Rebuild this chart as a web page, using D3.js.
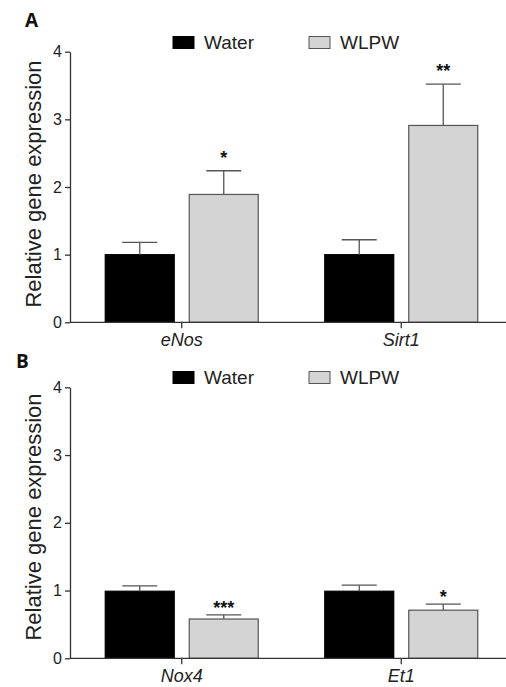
<!DOCTYPE html>
<html>
<head>
<meta charset="utf-8">
<script src="https://cdn.jsdelivr.net/npm/d3@7"></script>
<style>
  body { margin: 0; background: #fff; }
  svg { display: block; font-family: "Liberation Sans", Arial, sans-serif; }
</style>
</head>
<body>
<div id="chart"></div>
<script>
// data
var groups = ["Water", "WLPW"];
var yTicks = [0, 1, 2, 3, 4];

var genesA = ["eNos", "Sirt1"];
var waterA = [1.00, 1.00];
var wlpwA = [1.89, 2.91];
var waterSemA = [0.18, 0.22];
var wlpwSemA = [0.35, 0.61];
var starsA = ["*", "**"];

var genesB = ["Nox4", "Et1"];
var waterB = [0.99, 0.99];
var wlpwB = [0.58, 0.71];
var waterSemB = [0.08, 0.09];
var wlpwSemB = [0.06, 0.09];
var starsB = ["***", "*"];

var svgWidth = 506;
var svgHeight = 687;

var svg = d3.select("#chart")
  .append("svg")
  .attr("width", svgWidth)
  .attr("height", svgHeight);

var fills = { Water: "#000000", WLPW: "#d4d4d4" };
var axisColor = "#333";

function drawPanel(p) {
  var g = svg.append("g");

  var y = d3.scaleLinear().domain([0, 4]).range([p.y0, p.y4]);

  var x0 = d3.scaleBand()
    .domain(p.genes)
    .range([72, 511])
    .padding(0);

  var x1 = d3.scaleBand()
    .domain(groups)
    .range([-76.5, 76.5])
    .paddingInner(0.1786)
    .paddingOuter(0);

  var rows = [];
  p.genes.forEach(function(gene, i) {
    rows.push({ gene: gene, group: "Water", value: p.water[i], sem: p.waterSem[i], star: "" });
    rows.push({ gene: gene, group: "WLPW", value: p.wlpw[i], sem: p.wlpwSem[i], star: p.stars[i] });
  });

  var cx = function(d) { return x0(d.gene) + x0.bandwidth() / 2 + x1(d.group); };

  // bars
  g.selectAll("rect.bar")
    .data(rows)
    .enter()
    .append("rect")
    .attr("class", "bar")
    .attr("x", d => cx(d))
    .attr("y", d => y(d.value))
    .attr("width", x1.bandwidth())
    .attr("height", d => y(0) - y(d.value))
    .attr("fill", d => fills[d.group])
    .attr("stroke", d => d.group === "Water" ? "#000" : "#555")
    .attr("stroke-width", 1.2);

  // error bars (upper only)
  var errs = g.selectAll("g.err")
    .data(rows)
    .enter()
    .append("g")
    .attr("class", "err")
    .attr("stroke", "#555")
    .attr("stroke-width", 1.3);

  errs.append("line")
    .attr("x1", d => cx(d) + x1.bandwidth() / 2)
    .attr("x2", d => cx(d) + x1.bandwidth() / 2)
    .attr("y1", d => y(d.value))
    .attr("y2", d => y(d.value + d.sem));

  errs.append("line")
    .attr("x1", d => cx(d) + x1.bandwidth() / 2 - 17.5)
    .attr("x2", d => cx(d) + x1.bandwidth() / 2 + 17.5)
    .attr("y1", d => y(d.value + d.sem))
    .attr("y2", d => y(d.value + d.sem));

  // significance stars
  g.selectAll("text.star")
    .data(rows.filter(d => d.star))
    .enter()
    .append("text")
    .attr("class", "star")
    .attr("x", d => cx(d) + x1.bandwidth() / 2)
    .attr("y", d => y(d.value + d.sem) - p.starGap + 10)
    .attr("text-anchor", "middle")
    .style("font-size", "18px")
    .style("font-weight", "bold")
    .style("fill", "#111")
    .text(d => d.star);

  // y axis
  var yAxis = g.append("g")
    .attr("transform", "translate(70,0)")
    .call(d3.axisLeft(y).tickValues(yTicks).tickFormat(d3.format("d")).tickSize(5).tickSizeOuter(0).tickPadding(3));
  yAxis.selectAll("path, line").attr("stroke", axisColor).attr("stroke-width", 1.3);
  yAxis.selectAll("text").style("font-size", "16px").style("fill", "#222")
    .style("font-family", "'Liberation Sans', Arial, sans-serif");

  // x axis
  var xAxis = g.append("g")
    .attr("transform", `translate(0, ${p.y0})`)
    .call(d3.axisBottom(x0).tickSize(6).tickSizeOuter(0).tickPadding(6));
  xAxis.select(".domain").remove();
  xAxis.append("line")
    .attr("x1", 70).attr("x2", 506)
    .attr("y1", 0).attr("y2", 0)
    .attr("stroke", axisColor).attr("stroke-width", 1.3);
  xAxis.selectAll("line").attr("stroke", axisColor).attr("stroke-width", 1.3);
  xAxis.selectAll(".tick text")
    .attr("y", 0)
    .attr("dy", 0)
    .attr("transform", "translate(0,24)")
    .style("font-size", "18px")
    .style("font-style", "italic")
    .style("fill", "#222")
    .style("font-family", "'Liberation Sans', Arial, sans-serif");

  // y title
  g.append("text")
    .attr("transform", "rotate(-90)")
    .attr("x", -p.titleY)
    .attr("y", 41)
    .attr("text-anchor", "middle")
    .style("font-size", "22px")
    .style("fill", "#222")
    .text("Relative gene expression");

  // panel letter
  g.append("text")
    .attr("x", p.letterX)
    .attr("y", p.letterY)
    .style("font-family", "'Open Sans', sans-serif")
    .style("font-weight", "bold")
    .style("font-size", "19px")
    .style("fill", "#111")
    .text(p.letter);

  // legend
  var legendX = [173, 309];
  var legend = g.selectAll("g.legend")
    .data(groups)
    .enter()
    .append("g")
    .attr("class", "legend")
    .attr("transform", (d, i) => `translate(${legendX[i]}, ${p.legendY})`);

  legend.append("rect")
    .attr("x", 0).attr("y", 0)
    .attr("width", 21).attr("height", 12)
    .attr("fill", d => fills[d])
    .attr("stroke", d => d === "Water" ? "#000" : "#555")
    .attr("stroke-width", 1);

  legend.append("text")
    .attr("x", 31)
    .attr("y", 12.5)
    .style("font-size", "19px")
    .style("fill", "#222")
    .text(d => d);
}

drawPanel({
  genes: genesA, water: waterA, wlpw: wlpwA, waterSem: waterSemA, wlpwSem: wlpwSemA, stars: starsA,
  y0: 322.3, y4: 51.7, starGap: 17, titleY: 184, letter: "A", letterX: 25, letterY: 27, legendY: 36.5
});

drawPanel({
  genes: genesB, water: waterB, wlpw: wlpwB, waterSem: waterSemB, wlpwSem: wlpwSemB, stars: starsB,
  y0: 658.3, y4: 387.3, starGap: 11, titleY: 517, letter: "B", letterX: 16, letterY: 368, legendY: 371.5
});
</script>
</body>
</html>
